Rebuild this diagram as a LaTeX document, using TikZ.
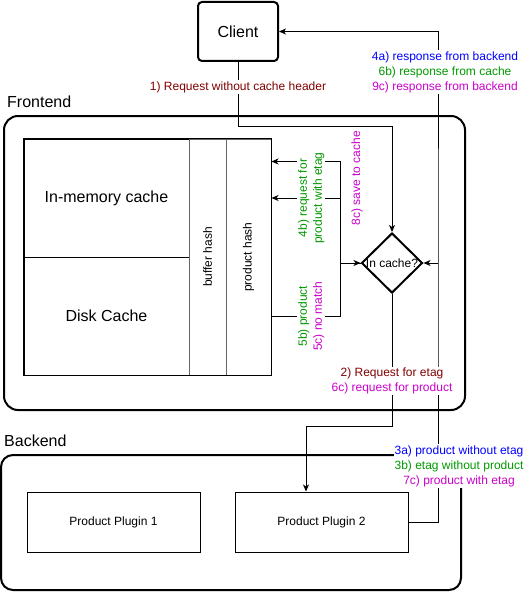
\documentclass[tikz,border=0pt]{standalone}
\usepackage{fontspec}
\setmainfont{Liberation Sans}
\usetikzlibrary{arrows.meta,shapes,calc,positioning}
\definecolor{reqred}{HTML}{800000}
\definecolor{stepblue}{HTML}{0000FF}
\definecolor{stepgreen}{HTML}{009900}
\definecolor{steppink}{HTML}{CC00CC}
\tikzset{
	big/.style={font=\fontsize{16}{19}\selectfont},
	small/.style={font=\fontsize{12}{15}\selectfont},
	group/.style={draw, line width=2pt, rounded corners=14pt},
	cell/.style={draw, line width=1pt, inner sep=0pt},
	flow/.style={line width=1pt, -{Stealth[length=7pt,width=6pt,inset=2pt]}},
	lbl/.style={small, fill=white, inner sep=1pt, align=center}
}

\begin{document}
\begin{tikzpicture}[x=1pt,y=-1pt]
\useasboundingbox (0,0) rectangle (528,594);

%% frontend and backend groups
\node[group, minimum width=461, minimum height=294] (front) at (234.5,263) {};
\node[big, anchor=west, inner sep=0pt] (frontlbl) at (7,102) {Frontend};
\node[group, rounded corners=12pt, minimum width=460, minimum height=135] (back) at (231,522.5) {};
\node[big, anchor=west, inner sep=0pt] (backlbl) at (4,441) {Backend};

\node[draw, line width=2pt, rounded corners=4pt, minimum width=80, minimum height=59, big] (client) at (238,31.5) {Client};

%% cache store
\node[cell, minimum width=165, minimum height=118, big] (mem) at (106.5,198) {In-memory cache};
\node[cell, minimum width=165, minimum height=118, big] (disk) at (106.5,316) {Disk Cache};
\node[cell, draw=black!60, minimum width=37, minimum height=236, label={[small,rotate=90]center:buffer hash}] (bufh) at (207.5,257) {};
\node[cell, draw=black!60, minimum width=45, minimum height=236, label={[small,rotate=90]center:product hash}] (prodh) at (248.5,257) {};
\draw[line width=1pt] (mem.north west) rectangle (prodh.south east);

\node[diamond, draw, line width=2pt, minimum width=61, minimum height=60, inner sep=0pt, label={[small]center:In cache?}] (check) at (392,263) {};

%% backend plugins
\node[cell, minimum width=173, minimum height=60, small] (plugA) at (113.5,522) {Product Plugin 1};
\node[cell, minimum width=173, minimum height=60, small] (plugB) at (321.5,522) {Product Plugin 2};

\coordinate (bend) at (392,126);
\coordinate (ret) at (438,263);
\coordinate (down) at (306,426);
\coordinate (join) at (340,263);

%% request from the client
\draw[flow] (client.south) -- node[lbl,pos=.39,text=reqred]{1) Request without cache header} (client.south |- bend) -- (bend) -- (check.north);

%% answers going back
\draw[flow] (plugB.east) -| (ret) |- (client.east);
\draw[flow] (ret) -- (check.east);
\node[lbl] (resp) at (445,72) {\color{stepblue}4a) response from backend\\\color{stepgreen}6b) response from cache\\\color{steppink}9c) response from backend};
\node[lbl] (prod) at (459,466) {\color{stepblue}3a) product without etag\\\color{stepgreen}3b) etag without product\\\color{steppink}7c) product with etag};

\draw[flow] (check.south) -- node[lbl,pos=.66]{\color{reqred}2) Request for etag\\\color{steppink}6c) request for product} (check.south |- down) -- (down) -- (down |- plugB.north);

%% between cache and check
\draw[flow] (prodh.east |- disk.center) -- node[lbl,rotate=90,pos=.58]{\color{stepgreen}5b) product\\\color{steppink}5c) no match} (join |- disk.center) -- (join) -- (check.west);
\draw[flow] (check.west) -- (join) |- ($(prodh.north east)+(0,23)$);
\draw[flow] (join) |- node[lbl,rotate=90,pos=.71]{\color{stepgreen}4b) request for\\\color{stepgreen}product with etag} (prodh.east |- mem.center);
\node[small, rotate=90, text=steppink, inner sep=0pt] (save) at (357,178) {8c) save to cache};
\end{tikzpicture}
\end{document}
